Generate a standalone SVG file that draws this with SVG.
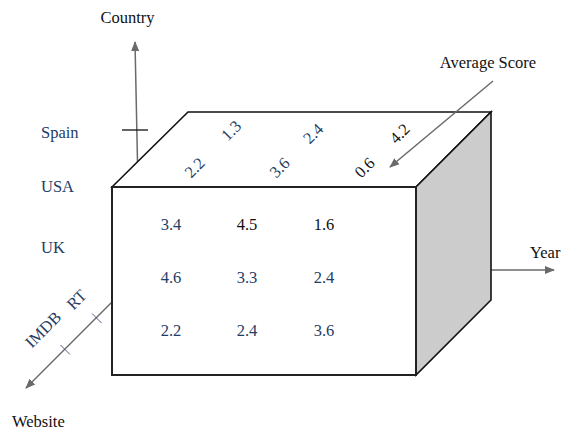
<svg xmlns="http://www.w3.org/2000/svg" width="562" height="433" viewBox="0 0 562 433">
<style>
text{font-family:"Liberation Serif","Times New Roman",serif;font-size:16.5px}
.lbl{fill:#111}
.b{fill:#1f3d66}
.k{fill:#111}
.ax{stroke:#6a6a6a;stroke-width:1.5;fill:none}
.edge{stroke:#111;stroke-width:1.6;fill:#fff;stroke-linejoin:miter}
.tick{stroke:#4a5f80;stroke-width:1}
</style>
<defs>
<marker id="arr" viewBox="0 0 10 10" refX="9" refY="5" markerWidth="10" markerHeight="10" markerUnits="userSpaceOnUse" orient="auto">
<path d="M0,1 L10,5 L0,9 Z" fill="#6a6a6a"/>
</marker>
</defs>
<g id="connectors">
<line class="ax" x1="137.5" y1="162" x2="135" y2="42" marker-end="url(#arr)"/>
<line x1="122" y1="130" x2="148" y2="130" stroke="#111" stroke-width="1.3"/>
<line class="ax" x1="112" y1="302" x2="26" y2="388" marker-end="url(#arr)"/>
<line class="tick" x1="92" y1="313.5" x2="101.5" y2="323"/>
<line class="tick" x1="60.5" y1="345" x2="70" y2="354.5"/>
<line class="ax" x1="491" y1="270" x2="554" y2="270" marker-end="url(#arr)"/>
</g>
<g id="cube">
<polygon class="edge" points="112,187 188,112 491,112 416,187"/>
<polygon class="edge" points="416,187 491,112 491,300 416,375" style="fill:#cccccc"/>
<rect x="112" y="187" width="304" height="188" fill="#fff" stroke="#222" stroke-width="2"/>
</g>
<g id="avg-arrow">
<line class="ax" x1="493" y1="81" x2="390" y2="167" marker-end="url(#arr)"/>
</g>
<g id="labels">
<text class="lbl" x="127.5" y="23" text-anchor="middle">Country</text>
<text class="lbl" x="488" y="68" text-anchor="middle">Average Score</text>
<text class="lbl" x="530" y="258">Year</text>
<text class="lbl" x="12" y="427">Website</text>
<text class="b" x="41" y="138">Spain</text>
<text class="b" x="41" y="192">USA</text>
<text class="b" x="41" y="253">UK</text>
<text class="b" transform="translate(43.5,330) rotate(-45)" text-anchor="middle" dy="5">IMDB</text>
<text class="b" transform="translate(77,300) rotate(-45)" text-anchor="middle" dy="5">RT</text>
</g>
<g id="top-values" text-anchor="middle">
<text class="b" transform="translate(195,168) rotate(-45)" dy="5">2.2</text>
<text class="b" transform="translate(231.5,131) rotate(-45)" dy="5">1.3</text>
<text class="b" transform="translate(280,168) rotate(-45)" dy="5">3.6</text>
<text class="b" transform="translate(313.5,134) rotate(-45)" dy="5">2.4</text>
<text class="k" transform="translate(365,168) rotate(-45)" dy="5">0.6</text>
<text class="k" transform="translate(400,134) rotate(-45)" dy="5">4.2</text>
</g>
<g id="front-values" text-anchor="middle">
<text class="b" x="171" y="230">3.4</text>
<text class="k" x="247" y="230">4.5</text>
<text class="k" x="324" y="230">1.6</text>
<text class="b" x="171" y="283">4.6</text>
<text class="b" x="247" y="283">3.3</text>
<text class="b" x="324" y="283">2.4</text>
<text class="b" x="171" y="336">2.2</text>
<text class="b" x="247" y="336">2.4</text>
<text class="b" x="324" y="336">3.6</text>
</g>
</svg>
